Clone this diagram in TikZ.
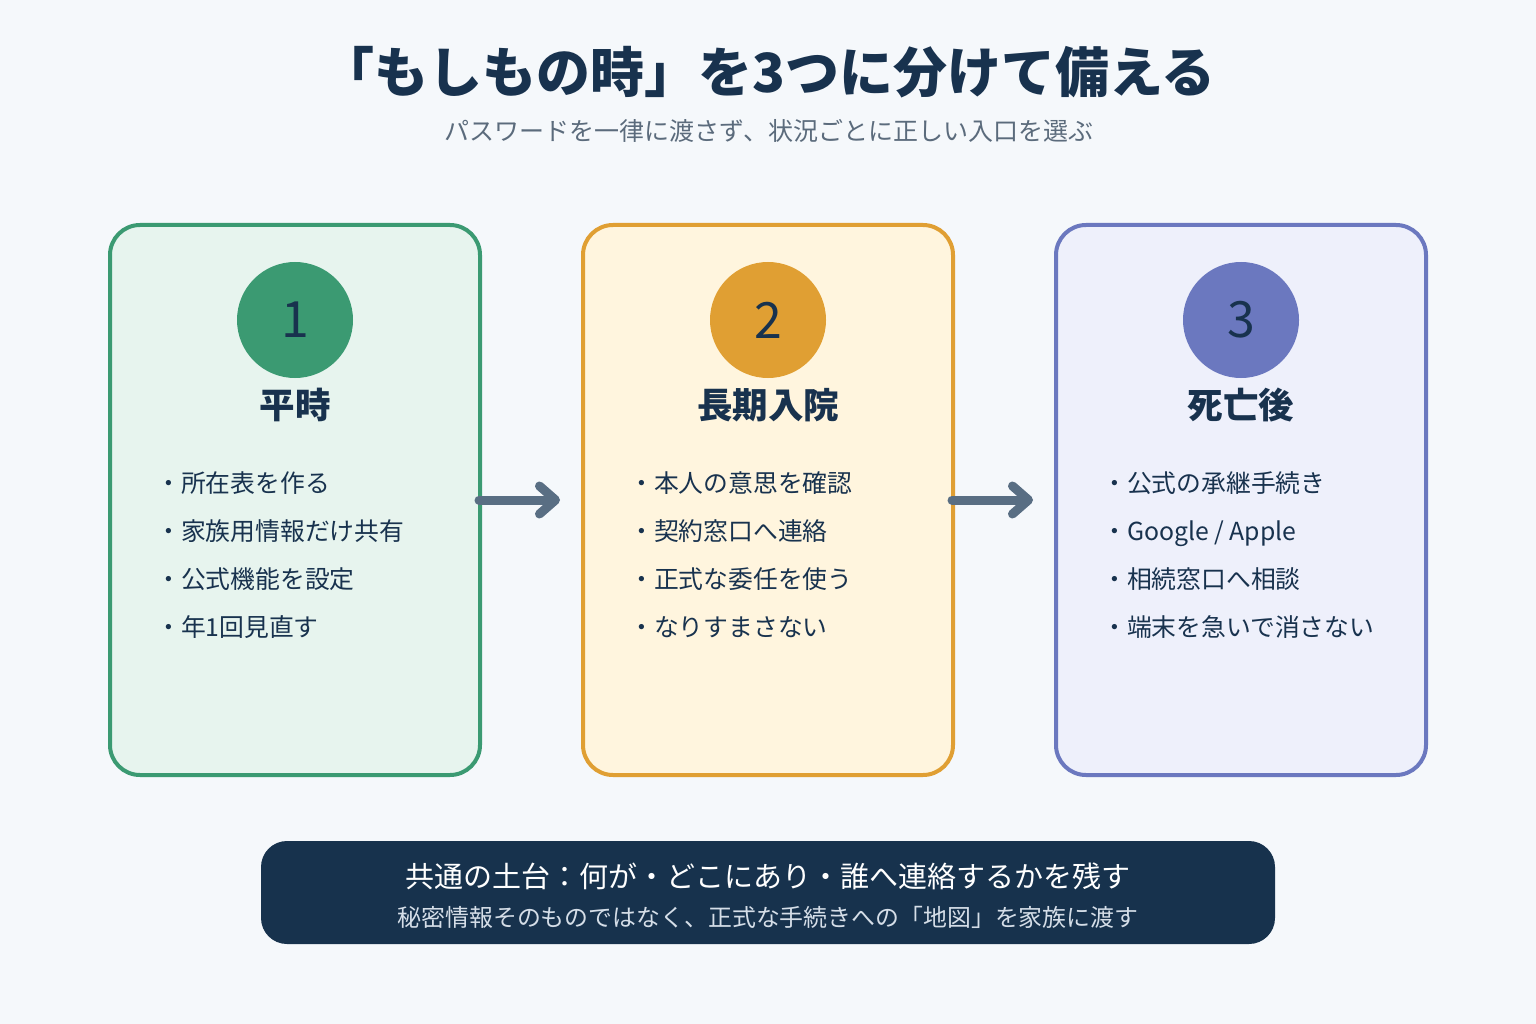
\documentclass[tikz,border=0pt]{standalone}
\usepackage{fontspec}
\setmainfont{Noto Sans CJK JP}
\usetikzlibrary{arrows.meta}

\definecolor{pagebg}{HTML}{F5F8FB}
\definecolor{ink}{HTML}{18324E}
\definecolor{subgray}{HTML}{5B6B7C}
\definecolor{greenline}{HTML}{3B9A72}
\definecolor{greenfill}{HTML}{E7F4EE}
\definecolor{orangeline}{HTML}{E09F33}
\definecolor{orangefill}{HTML}{FFF5DE}
\definecolor{blueline}{HTML}{6B78BF}
\definecolor{bluefill}{HTML}{EEF0FB}
\definecolor{arrowgray}{HTML}{596E83}
\definecolor{barnavy}{HTML}{17324D}
\definecolor{barsub}{HTML}{D5DEE8}

\begin{document}
\begin{tikzpicture}[x=1pt, y=-1pt,
    card/.style={draw, line width=4pt, rounded corners=30pt, minimum width=370pt, minimum height=550pt},
    badge/.style={circle, minimum size=116pt, inner sep=0pt},
    num/.style={text=ink, font=\fontsize{50}{56}\selectfont, inner sep=0pt},
    head/.style={text=ink, font=\fontsize{35.5}{40}\selectfont\bfseries, inner sep=0pt},
    item/.style={text=ink, font=\fontsize{24.8}{28}\selectfont, anchor=west, inner sep=0pt,
                 text height=0.88em, text depth=0.12em},
    flow/.style={draw=arrowgray, line width=9pt, line cap=round, shorten <=-3pt, shorten >=21pt,
                 -{Straight Barb[length=16pt, width=28pt, round]}}]
    \useasboundingbox[fill=pagebg] (0,0) rectangle (1536,1024);

    % title
    \node[text=ink, font=\fontsize{54}{62}\selectfont\bfseries, inner sep=0pt] (title) at (768,72) {「もしもの時」を3つに分けて備える};
    \node[text=subgray, font=\fontsize{25}{28}\selectfont, inner sep=0pt] (subtitle) at (769,131) {パスワードを一律に渡さず、状況ごとに正しい入口を選ぶ};

    % cards
    \node[card, draw=greenline, fill=greenfill] (card1) at (295,500) {};
    \node[card, draw=orangeline, fill=orangefill] (card2) at (768,500) {};
    \node[card, draw=blueline, fill=bluefill] (card3) at (1241,500) {};

    \node[badge, fill=greenline] (badge1) at (295,320) {};
    \node[badge, fill=orangeline] (badge2) at (768,320) {};
    \node[badge, fill=blueline] (badge3) at (1241,320) {};
    \node[num] at (badge1) {1};
    \node[num] at (badge2) {2};
    \node[num] at (badge3) {3};

    \node[head] (head1) at (295,405) {平時};
    \node[head] (head2) at (768,405) {長期入院};
    \node[head] (head3) at (1241,405) {死亡後};

    % card 1
    \node[item] (a1) at (156,489) {・所在表を作る};
    \node[item] (a2) at (156,537) {・家族用情報だけ共有};
    \node[item] (a3) at (156,585) {・公式機能を設定};
    \node[item] (a4) at (156,633) {・年1回見直す};
    % card 2
    \node[item] (b1) at (629,489) {・本人の意思を確認};
    \node[item] (b2) at (629,537) {・契約窓口へ連絡};
    \node[item] (b3) at (629,585) {・正式な委任を使う};
    \node[item] (b4) at (629,633) {・なりすまさない};
    % card 3
    \node[item] (c1) at (1102,489) {・公式の承継手続き};
    \node[item] (c2) at (1102,537) {・Google / Apple};
    \node[item] (c3) at (1102,585) {・相続窓口へ相談};
    \node[item] (c4) at (1102,633) {・端末を急いで消さない};

    \path[flow] (card1.east) -- (card2.west);
    \path[flow] (card2.east) -- (card3.west);

    % bottom bar
    \node[fill=barnavy, rounded corners=26pt, minimum width=1014pt, minimum height=103pt] (base) at (768,892.5) {};
    \node[text=white, font=\fontsize{29}{32}\selectfont, inner sep=0pt] (base1) at (768,876) {共通の土台：何が・どこにあり・誰へ連絡するかを残す};
    \node[text=barsub, font=\fontsize{23.9}{27}\selectfont, inner sep=0pt] (base2) at (768,917) {秘密情報そのものではなく、正式な手続きへの「地図」を家族に渡す};

\end{tikzpicture}
\end{document}
